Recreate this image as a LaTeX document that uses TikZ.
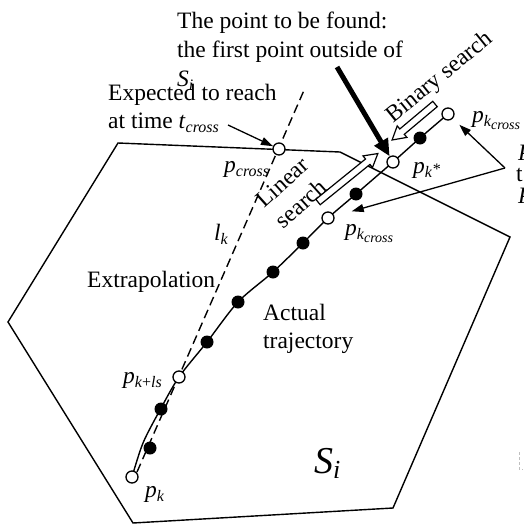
\documentclass[tikz,border=0pt]{standalone}
\usepackage{fontspec}
\setmainfont{Liberation Serif}
\usetikzlibrary{arrows.meta}
\newcommand\sbs[1]{\raisebox{-4.5pt}{\fontsize{16}{16}\selectfont\itshape #1}}
\newcommand\ssbs[1]{\raisebox{-3pt}{\fontsize{14}{14}\selectfont\itshape #1}}
\begin{document}
\begin{tikzpicture}[x=1pt,y=-1pt,
  txt/.style={font=\fontsize{23.5}{28.5}\selectfont, inner sep=0pt, anchor=base west},
  odot/.style={circle, draw, fill=white, line width=1.3pt, minimum size=12pt, inner sep=0pt},
  bdot/.style={circle, fill=black, minimum size=13pt, inner sep=0pt},
  ln/.style={line width=1.4pt},
  arr/.style={line width=1.3pt, -{Triangle[length=12pt,width=8pt]}},
  hollow/.style={draw, line width=1.2pt, fill=white, line join=miter}]
\clip (0,0) rectangle (523,525);
\fill[white] (0,0) rectangle (523,525);

% region S_i
\draw[ln] (118,143) -- (340,152) -- (510,237) -- (393,508) -- (133,523) -- (8,322) -- cycle;

% extrapolation line l_k
\coordinate (lkb) at (137,472);
\coordinate (lkt) at (305,88);
\draw[ln, dash pattern=on 9pt off 5pt] (lkb) -- (lkt);

% actual trajectory
\coordinate (a1) at (132,477);
\coordinate (a2) at (143,443);
\coordinate (a3) at (160,410);
\coordinate (a4) at (179,377);
\coordinate (a5) at (207,342);
\coordinate (a6) at (238,302);
\coordinate (a7) at (273,272);
\coordinate (a8) at (303,243);
\coordinate (a9) at (328,218);
\coordinate (a10) at (356,194);
\coordinate (a11) at (393,162);
\coordinate (a12) at (420,138);
\coordinate (a13) at (448,114);
\draw[ln] plot[smooth, tension=0.5] coordinates {(a1) (a2) (a3) (a4) (a5) (a6) (a7) (a8) (a9) (a10) (a11) (a12) (a13)};

% points
\node[odot] (pk) at (a1) {};
\node[bdot] (d1) at (150,448) {};
\node[bdot] (d2) at (161,409) {};
\node[odot] (pkls) at (a4) {};
\node[bdot] (d3) at (a5) {};
\node[bdot] (d4) at (a6) {};
\node[bdot] (d5) at (a7) {};
\node[bdot] (d6) at (a8) {};
\node[odot] (pkc1) at (a9) {};
\node[bdot] (d7) at (a10) {};
\node[odot] (pks) at (a11) {};
\node[bdot] (d8) at (a12) {};
\node[odot] (pkc2) at (a13) {};
\node[odot] (pcross) at (279,149) {};

% hollow arrows
\begin{scope}[shift={(318,202)}, x=1pt, y=1pt, rotate=39]
\draw[hollow] (0,-3.5) -- (64,-3.5) -- (64,-7.5) -- (77,0) -- (64,7.5) -- (64,3.5) -- (0,3.5) -- cycle;
\end{scope}
\begin{scope}[shift={(435,104)}, x=1pt, y=1pt, rotate=220]
\draw[hollow] (0,-3.5) -- (43,-3.5) -- (43,-7.5) -- (56,0) -- (43,7.5) -- (43,3.5) -- (0,3.5) -- cycle;
\end{scope}

% thick arrow
\coordinate (fa) at (337,67);
\draw[line width=5pt, -{Triangle[length=17pt,width=15pt]}] (fa) -- (pks);

% thin arrows
\coordinate (ta) at (228,125);
\draw[arr] (ta) -- (pcross);
\coordinate (v) at (505,168);
\draw[arr, shorten >=9pt] (v) -- (pkc2);
\draw[arr, shorten >=18pt] (v) -- (pkc1);

% texts
\node[txt] (t1) at (177,28) {The point to be found:};
\node[txt] (t2) at (177,57) {the first point outside of};
\node[txt] (t3) at (177,86) {\textit{S}\sbs{i}};
\node[txt] (e1) at (108,100) {Expected to reach};
\node[txt] (e2) at (108,128) {at time \textit{t}\sbs{cross}};
\node[txt] (ex) at (87,287) {Extrapolation};
\node[txt] (ac1) at (263,320) {Actual};
\node[txt] (ac2) at (263,348) {trajectory};
\node[txt, anchor=center, align=left, rotate=42] (ls) at (292,193) {Linear\\search};
\node[txt, anchor=center, rotate=39] (bs) at (440,78) {Binary search};
\node[txt] (si) at (314,473) {\fontsize{38}{38}\selectfont\textit{S}\raisebox{-5pt}{\fontsize{26}{26}\selectfont\itshape i}};

% labels
\node[txt] (lpk) at (145,497) {\textit{p}\sbs{k}};
\node[txt] (lpkls) at (123,383) {\textit{p}\sbs{k{\upshape +}ls}};
\node[txt] (lpcross) at (224,172) {\textit{p}\sbs{cross}};
\node[txt] (llk) at (214,240) {\textit{l}\sbs{k}};
\node[txt] (lpkc1) at (345,235) {\textit{p}\sbs{k\ssbs{cross}}};
\node[txt] (lpks) at (413,173) {\textit{p}\sbs{k\raisebox{3pt}{*}}};
\node[txt] (lpkc2) at (472,122) {\textit{p}\sbs{k\ssbs{cross}}};

% cut-off text at the right edge
\node[txt] (r1) at (518,160) {\textit{P}};
\node[txt] (r2) at (516,181) {t};
\node[txt] (r3) at (518,203) {\textit{P}};

% small mark at the lower right edge
\draw[gray!50, line width=0.6pt, densely dashed] (519,452) -- (519,469) -- (523,469);
\end{tikzpicture}
\end{document}
